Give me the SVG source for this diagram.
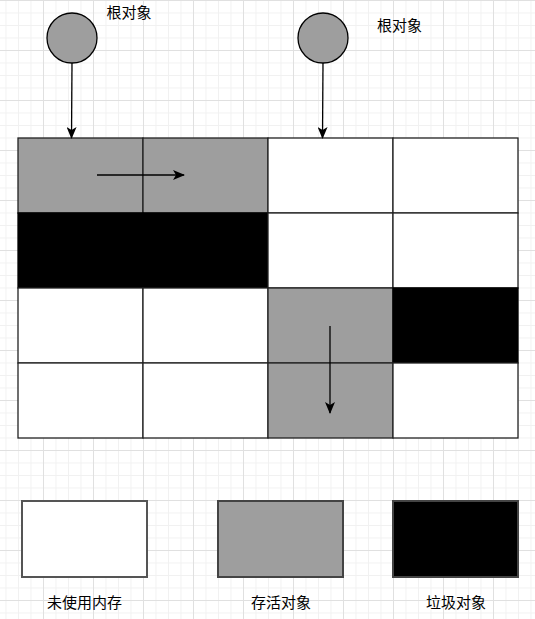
<svg xmlns="http://www.w3.org/2000/svg" width="535" height="619" viewBox="0 0 535 619">
<defs>
<pattern id="minor" x="-7" y="0" width="12.5" height="12.5" patternUnits="userSpaceOnUse">
<path d="M 0 0.5 H 12.5 M 0.5 0 V 12.5" fill="none" stroke="#f1f1f1" stroke-width="1"/>
</pattern>
<pattern id="major" x="-7" y="0" width="50" height="50" patternUnits="userSpaceOnUse">
<path d="M 0 0.5 H 50 M 0.5 0 V 50" fill="none" stroke="#e0e0e0" stroke-width="1"/>
</pattern>
<marker id="arr" viewBox="0 0 12 10" refX="11" refY="5" markerWidth="12" markerHeight="10" markerUnits="userSpaceOnUse" orient="auto">
<path d="M 0 0 L 12 5 L 0 10 L 3 5 Z" fill="#000"/>
</marker>
<style>
.cell{stroke:#222;stroke-width:1.3}
.w{fill:#fff}
.g{fill:#9e9e9e}
.b{fill:#000;stroke:#000}
.lbl{font-family:"Noto Sans CJK SC","Noto Sans CJK TC",sans-serif;font-size:15px;fill:#000;text-anchor:middle}
.conn{stroke:#000;stroke-width:1.3;fill:none}
</style>
</defs>
<rect width="535" height="619" fill="#fff"/>
<rect width="535" height="619" fill="url(#minor)"/>
<rect width="535" height="619" fill="url(#major)"/>

<g id="root1">
<circle cx="72" cy="38" r="25" fill="#9e9e9e" stroke="#000" stroke-width="1.3"/>
<text class="lbl" x="129" y="18">根对象</text>
</g>
<g id="root2">
<circle cx="323" cy="38" r="25" fill="#9e9e9e" stroke="#000" stroke-width="1.3"/>
<text class="lbl" x="399.5" y="31">根对象</text>
</g>

<g id="heap">
<g id="c00"><rect class="cell g" x="18" y="138" width="125" height="75"/></g>
<g id="c01"><rect class="cell g" x="143" y="138" width="125" height="75"/></g>
<g id="c02"><rect class="cell w" x="268" y="138" width="125" height="75"/></g>
<g id="c03"><rect class="cell w" x="393" y="138" width="125" height="75"/></g>
<g id="c10"><rect class="cell b" x="18" y="213" width="125" height="75"/></g>
<g id="c11"><rect class="cell b" x="143" y="213" width="125" height="75"/></g>
<g id="c12"><rect class="cell w" x="268" y="213" width="125" height="75"/></g>
<g id="c13"><rect class="cell w" x="393" y="213" width="125" height="75"/></g>
<g id="c20"><rect class="cell w" x="18" y="288" width="125" height="75"/></g>
<g id="c21"><rect class="cell w" x="143" y="288" width="125" height="75"/></g>
<g id="c22"><rect class="cell g" x="268" y="288" width="125" height="75"/></g>
<g id="c23"><rect class="cell b" x="393" y="288" width="125" height="75"/></g>
<g id="c30"><rect class="cell w" x="18" y="363" width="125" height="75"/></g>
<g id="c31"><rect class="cell w" x="143" y="363" width="125" height="75"/></g>
<g id="c32"><rect class="cell g" x="268" y="363" width="125" height="75"/></g>
<g id="c33"><rect class="cell w" x="393" y="363" width="125" height="75"/></g>
</g>

<g id="connectors">
<path class="conn" d="M 72 63 L 71.5 138" marker-end="url(#arr)"/>
<path class="conn" d="M 323 63 L 322.5 138" marker-end="url(#arr)"/>
<path class="conn" d="M 97 175 L 184 175" marker-end="url(#arr)"/>
<path class="conn" d="M 330 326 L 330 413" marker-end="url(#arr)"/>
</g>

<g id="legend-unused">
<rect x="22" y="501" width="125" height="76" fill="#fff" stroke="#555" stroke-width="2"/>
<text class="lbl" x="84.5" y="608">未使用内存</text>
</g>
<g id="legend-live">
<rect x="218" y="501" width="125" height="76" fill="#9e9e9e" stroke="#444" stroke-width="2"/>
<text class="lbl" x="281" y="608">存活对象</text>
</g>
<g id="legend-garbage">
<rect x="393" y="501" width="125" height="76" fill="#000" stroke="#444" stroke-width="2"/>
<text class="lbl" x="456" y="608">垃圾对象</text>
</g>
</svg>
